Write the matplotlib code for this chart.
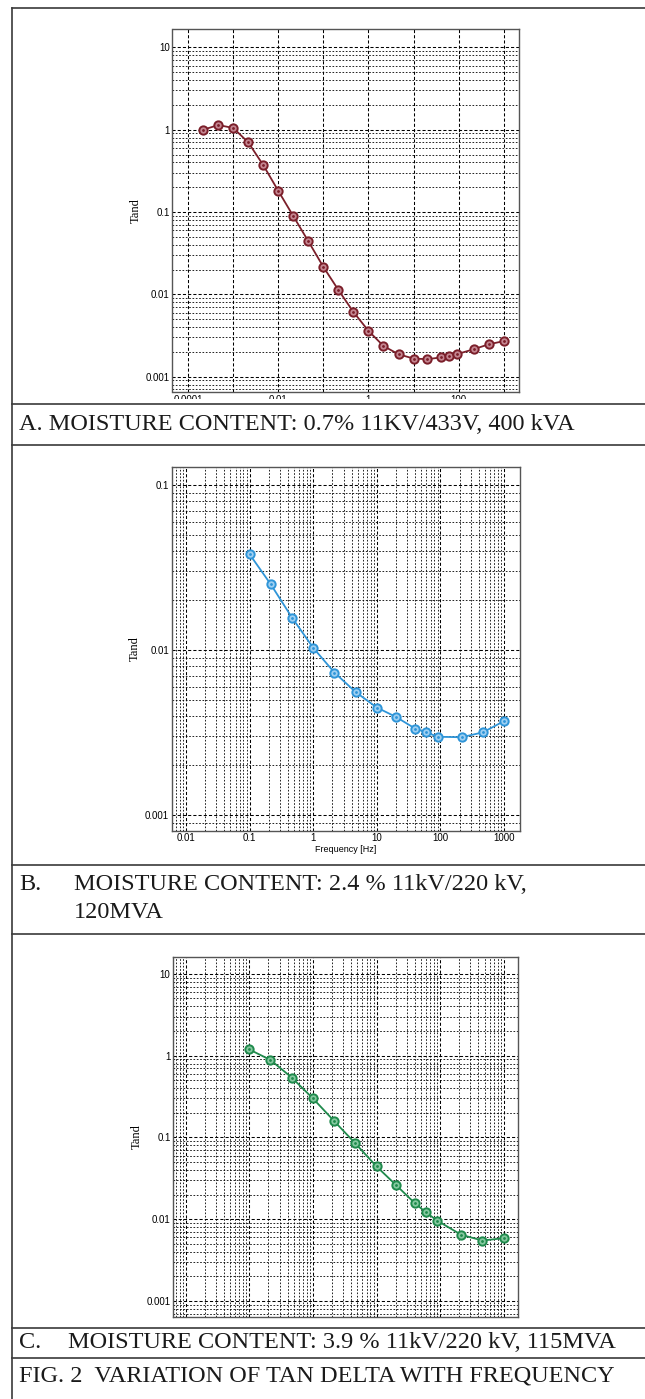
import matplotlib
matplotlib.use("Agg")
import matplotlib.pyplot as plt
import numpy as np
from matplotlib.lines import Line2D
from matplotlib.patches import Rectangle
from matplotlib.ticker import FixedLocator, FuncFormatter, NullFormatter

W, H = 645, 1399  # output size in px (dpi 100)

# panel A: 0.7 % moisture, 11kV/433V 400 kVA
freq_a = [2.15e-4, 4.64e-4, 1e-3, 2.15e-3, 4.64e-3, 1e-2, 2.15e-2, 4.64e-2,
          0.1, 0.215, 0.464, 1, 2.15, 4.64, 10, 20, 40, 60, 90, 215, 464, 1000]
tand_a = [1.0, 1.14, 1.05, 0.70, 0.37, 0.18, 0.089, 0.044,
          0.0215, 0.0113, 0.0061, 0.0036, 0.00236, 0.00187, 0.00166, 0.00163,
          0.00171, 0.00179, 0.00187, 0.00215, 0.00247, 0.0027]

# panels B and C share the frequency sweep
freq_bc = [0.1, 0.215, 0.464, 1, 2.15, 4.64, 10, 20, 40, 60, 90, 215, 464, 1000]
tand_b = [0.038, 0.025, 0.0157, 0.0103, 0.0073, 0.00556, 0.00448, 0.00393,
          0.00334, 0.00317, 0.00298, 0.00296, 0.00317, 0.00371]
tand_c = [1.19, 0.885, 0.54, 0.30, 0.159, 0.0845, 0.0442, 0.0264,
          0.0157, 0.0121, 0.0096, 0.00644, 0.00548, 0.00586]

decade_labels = {1e-4: "0.0001", 1e-3: "0.001", 1e-2: "0.01", 0.1: "0.1",
                 1: "1", 10: "10", 100: "100", 1000: "1000"}
xlabels_a = [1e-4, 1e-2, 1, 100]
xlabels_b = [1e-2, 0.1, 1, 10, 100, 1000]

captions = {
    "A": "A. MOISTURE CONTENT: 0.7% 11KV/433V, 400 kVA",
    "B": "MOISTURE CONTENT: 2.4 % 11kV/220 kV,",
    "B2": "120MVA",
    "C": "MOISTURE CONTENT: 3.9 % 11kV/220 kV, 115MVA",
    "FIG": "FIG. 2  VARIATION OF TAN DELTA WITH FREQUENCY",
}

SERIF = "Liberation Serif"
SANS = "Liberation Sans"


def px_axes(fig, left, top, right, bottom):
    return fig.add_axes([left / W, 1 - bottom / H, (right - left) / W, (bottom - top) / H])


def fy(y):
    return 1 - y / H


def fmt_for(shown):
    def f(v, pos):
        for k, s in decade_labels.items():
            if abs(np.log10(v) - np.log10(k)) < 1e-6 and (shown is None or k in shown):
                return s
        return ""
    return FuncFormatter(f)


def style_axes(ax, xlim, ylim, ydecades, xminor_grid, xshown):
    ax.set_xscale("log")
    ax.set_yscale("log")
    ax.set_xlim(*xlim)
    ax.set_ylim(*ylim)

    xdec = [10.0 ** k for k in range(-5, 5)]
    ax.xaxis.set_major_locator(FixedLocator(xdec))
    ax.xaxis.set_minor_locator(FixedLocator([m * d for d in xdec for m in range(2, 10)]))
    ax.yaxis.set_major_locator(FixedLocator(ydecades))
    ax.yaxis.set_minor_locator(FixedLocator([m * d for d in [10.0 ** k for k in range(-4, 2)]
                                             for m in range(2, 10)]))
    ax.xaxis.set_major_formatter(fmt_for(xshown) if xshown else NullFormatter())
    ax.xaxis.set_minor_formatter(NullFormatter())
    ax.yaxis.set_major_formatter(fmt_for(None))
    ax.yaxis.set_minor_formatter(NullFormatter())

    ax.grid(True, which="major", ls=(0, (3, 2)), color="black", lw=0.75)
    ax.grid(True, which="minor", axis="both" if xminor_grid else "y",
            ls=(0, (2, 2)), color="black", lw=0.6)
    ax.tick_params(which="both", length=0, labelsize=7, pad=2)
    for lab in ax.get_xticklabels() + ax.get_yticklabels():
        lab.set_fontfamily(SANS)
    for sp in ax.spines.values():
        sp.set_color("#555555")
        sp.set_linewidth(1.0)

    ax.set_ylabel("Tand", fontfamily=SERIF, fontsize=9)
    ax.yaxis.set_label_coords(-0.088, 0.5)


def plot_series(ax, x, y, color, face):
    ax.plot(x, y, color=color, lw=1.3, marker="o", ms=6, mfc=face, mec=color,
            mew=1.4, zorder=5)
    ax.plot(x, y, ls="none", marker=".", ms=2.0, color=color, zorder=6)


fig = plt.figure(figsize=(W / 100, H / 100), dpi=100)

# panel A
ax_a = px_axes(fig, 172.5, 29.3, 518.5, 392.3)
style_axes(ax_a, (10 ** -4.35, 10 ** 3.33), (10 ** -3.19, 10 ** 1.22),
           [1e-3, 1e-2, 0.1, 1, 10], False, xlabels_a)
plot_series(ax_a, freq_a, tand_a, "#7b1f2a", "#c58792")

# panel B
ax_b = px_axes(fig, 171.7, 467.3, 520.0, 830.7)
style_axes(ax_b, (10 ** -2.225, 10 ** 3.25), (10 ** -3.095, 10 ** -0.893),
           [1e-3, 1e-2, 0.1], True, xlabels_b)
plot_series(ax_b, freq_bc, tand_b, "#2f95d8", "#9fd0f2")
ax_b.set_xlabel("Frequency [Hz]", fontfamily=SANS, fontsize=6.5, labelpad=1)

# panel C
ax_c = px_axes(fig, 173.3, 956.7, 517.7, 1317.3)
style_axes(ax_c, (10 ** -2.195, 10 ** 3.22), (10 ** -3.2, 10 ** 1.21),
           [1e-3, 1e-2, 0.1, 1, 10], True, None)
plot_series(ax_c, freq_bc, tand_c, "#1f8a4c", "#86c9a0")

# A's tick labels are cut off by the table rule in the source figure
fig.patches.append(Rectangle((0, fy(404)), 1, (404 - 398.5) / H, transform=fig.transFigure,
                             facecolor="white", edgecolor="none", zorder=10))

# table rules
rule = dict(color="#3a3a3a", lw=1.2, transform=fig.transFigure, zorder=11)
fig.lines.append(Line2D([12 / W, 12 / W], [fy(8), 0], **rule))
for y in [8, 404, 445, 865, 934, 1328, 1358]:
    fig.lines.append(Line2D([12 / W, 1], [fy(y), fy(y)], **rule))

# captions
cap = dict(fontfamily=SERIF, fontsize=17.5, color="#1a1a1a", va="center", ha="left")
fig.text(19 / W, fy(424), captions["A"], **cap)
fig.text(19 / W, fy(885), "B.", **cap)
fig.text(74 / W, fy(885), captions["B"], **cap)
fig.text(74 / W, fy(912), captions["B2"], **cap)
fig.text(19 / W, fy(1343), "C.", **cap)
fig.text(68 / W, fy(1343), captions["C"], **cap)
fig.text(19 / W, fy(1376), captions["FIG"], **cap)

fig.savefig("out.png", dpi=100)
